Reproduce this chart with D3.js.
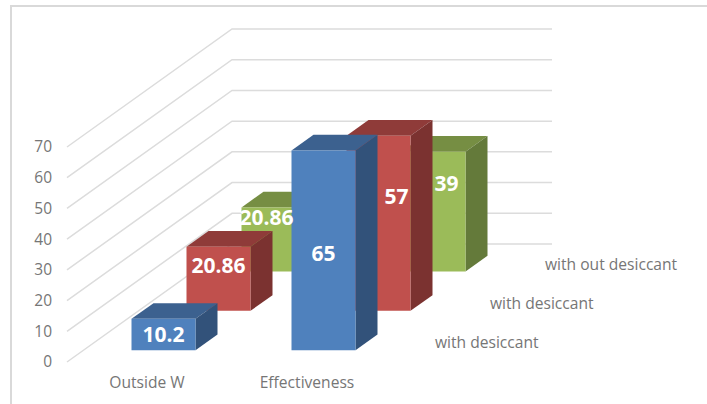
<!DOCTYPE html>
<html>
<head>
<meta charset="utf-8">
<script src="https://cdn.jsdelivr.net/npm/d3@7/dist/d3.min.js"></script>
<style>
  html, body { margin: 0; padding: 0; background: #fff; }
  svg { display: block; }
  text { font-family: "Open Sans", sans-serif; }
</style>
</head>
<body>
<svg id="chart" width="707" height="404"></svg>
<script>
// Chart data
const categories = ["Outside W", "Effectiveness"];
const seriesNames = ["with desiccant", "with desiccant", "with out desiccant"];
const seriesA = [10.2, 65];
const seriesB = [20.86, 57];
const seriesC = [20.86, 39];
const tickValues = [0, 10, 20, 30, 40, 50, 60, 70];

// Oblique projection of the 3-D box
const origin = { x: 67, y: 362 };
const depthVec = { x: 165, y: -118 };
const floorWidth = 320;
const wallHeight = 215;

const u = d3.scaleBand().domain(categories).range([0, floorWidth]).paddingInner(0.6).paddingOuter(0.3);
const t = d3.scaleBand().domain(d3.range(seriesNames.length)).range([0, 1]).paddingInner(0.6).paddingOuter(0.3);
const v = d3.scaleLinear().domain([0, 70]).range([0, wallHeight]);

const project = (a, b, c) => [
  origin.x + a + b * depthVec.x,
  origin.y + b * depthVec.y - c
];
const poly = pts => "M" + pts.map(p => p.join(",")).join("L") + "Z";

const palette = [
  { front: "#4f81bd", top: "#3c618f", side: "#32527a" },
  { front: "#c0504d", top: "#8f3b39", side: "#7b3230" },
  { front: "#9bbb59", top: "#768e43", side: "#647a3a" }
];

// Per-label shift from the centre of the front face, as placed on the chart
const labelShift = [
  [[0, 0], [0, 4]],
  [[0, -13], [18, -26]],
  [[-7, -21], [13, -28]]
];

const svg = d3.select("#chart");

// Chart area frame: left and top edges only
svg.append("path")
  .attr("d", "M11,404V6H707")
  .attr("fill", "none").attr("stroke", "#d9d9d9").attr("stroke-width", 2);

// Gridlines: along the side wall, then across the back wall
svg.append("g").selectAll("path").data(tickValues).join("path")
  .attr("d", d => {
    const a = project(0, 0, v(d)), b = project(0, 1, v(d)), c = project(floorWidth, 1, v(d));
    return `M${a}L${b}L${c}`;
  })
  .attr("fill", "none").attr("stroke", "#dcdcdc").attr("stroke-width", 1.5);

// Value axis
const axisG = svg.append("g").attr("transform", `translate(52,${origin.y})`)
  .call(d3.axisLeft(d3.scaleLinear().domain([0, 70]).range([0, -wallHeight]))
    .tickValues(tickValues).tickSize(0).tickPadding(0));
axisG.select(".domain").remove();
axisG.selectAll("text").attr("fill", "#767676").style("font-size", "15.5px").style("font-family", '"Open Sans", sans-serif');

// Category labels under the floor
svg.append("g").selectAll("text").data(categories).join("text")
  .attr("x", d => origin.x + u(d) + 32)
  .attr("y", 388)
  .attr("text-anchor", "middle").attr("fill", "#767676").attr("font-size", 15.6)
  .text(d => d);

// Series labels along the depth axis
svg.append("g").selectAll("text").data(seriesNames).join("text")
  .attr("x", (d, i) => project(floorWidth, t(i), 0)[0] + 31.5)
  .attr("y", (d, i) => project(floorWidth, t(i), 0)[1] - 2)
  .attr("fill", "#767676").attr("font-size", 15.6)
  .text(d => d);

// Bars, back row first so nearer rows overlap them
const rows = [seriesA, seriesB, seriesC].map((values, s) =>
  values.map((value, c) => ({ value, s, c, cat: categories[c] })));

const boxes = svg.append("g");
for (const row of rows.slice().reverse()) {
  for (const d of row) {
    const x0 = u(d.cat), x1 = x0 + u.bandwidth();
    const z0 = t(d.s), z1 = z0 + t.bandwidth();
    const h = v(d.value);
    const col = palette[d.s];
    boxes.append("path").attr("fill", col.top)
      .attr("d", poly([project(x0, z0, h), project(x1, z0, h), project(x1, z1, h), project(x0, z1, h)]));
    boxes.append("path").attr("fill", col.side)
      .attr("d", poly([project(x1, z0, 0), project(x1, z1, 0), project(x1, z1, h), project(x1, z0, h)]));
    boxes.append("path").attr("fill", col.front)
      .attr("d", poly([project(x0, z0, 0), project(x1, z0, 0), project(x1, z0, h), project(x0, z0, h)]));
  }
}

// Value labels
const labels = svg.append("g");
for (const row of rows) {
  for (const d of row) {
    const p = project(u(d.cat) + u.bandwidth() / 2, t(d.s), v(d.value) / 2);
    const shift = labelShift[d.s][d.c];
    labels.append("text")
      .attr("x", p[0] + shift[0]).attr("y", p[1] + shift[1] + 7)
      .attr("text-anchor", "middle").attr("fill", "#fff")
      .attr("font-size", 21).attr("font-weight", 700)
      .text(d.value);
  }
}
</script>
</body>
</html>
